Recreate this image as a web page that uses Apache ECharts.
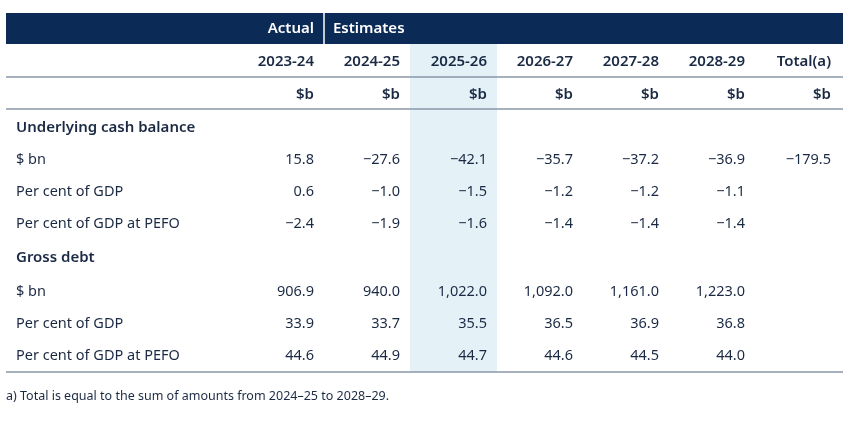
<!DOCTYPE html>
<html><head><meta charset="utf-8">
<script src="https://cdn.jsdelivr.net/npm/echarts@6/dist/echarts.min.js"></script>
<style>html,body{margin:0;padding:0;background:#fff}#c{width:855px;height:422px}</style>
</head><body><div id="c"></div>
<script>
const columns = ['2023-24','2024-25','2025-26','2026-27','2027-28','2028-29','Total(a)'];
const units = ['$b','$b','$b','$b','$b','$b','$b'];
const section1 = 'Underlying cash balance';
const section2 = 'Gross debt';
const rowLabels1 = ['$ bn','Per cent of GDP','Per cent of GDP at PEFO'];
const rowLabels2 = ['$ bn','Per cent of GDP','Per cent of GDP at PEFO'];
const ucbBn = ['15.8','-27.6','-42.1','-35.7','-37.2','-36.9','-179.5'];
const ucbGdp = ['0.6','-1.0','-1.5','-1.2','-1.2','-1.1',''];
const ucbPefo = ['-2.4','-1.9','-1.6','-1.4','-1.4','-1.4',''];
const debtBn = ['906.9','940.0','1,022.0','1,092.0','1,161.0','1,223.0',''];
const debtGdp = ['33.9','33.7','35.5','36.5','36.9','36.8',''];
const debtPefo = ['44.6','44.9','44.7','44.6','44.5','44.0',''];
const footnote = 'a) Total is equal to the sum of amounts from 2024\u201325 to 2028\u201329.';

const navy = '#0b2a55', txt = '#1b2a44', font = '"Noto Sans", sans-serif';
const colRight = [314,400,487,573,659,745,831];
const g = [];
const T = (x,y,s,opt={}) => g.push({type:'text',x,y,style:Object.assign({text:s,fill:txt,font:`${opt.bold?'600 ':''}${opt.size||14.5}px ${font}`,textAlign:opt.align||'left',textVerticalAlign:'middle'},opt.style||{})});
const R = (x,y,w,h,fill) => g.push({type:'rect',shape:{x,y,width:w,height:h},style:{fill}});
const L = (x1,y1,x2,y2,stroke,lw) => g.push({type:'line',shape:{x1,y1,x2,y2},style:{stroke,lineWidth:lw}});

R(410,44,87,328,'#e4f2f8');
R(6,13,837,31,navy);
L(324,13,324,44,'#ffffff',1.5);
T(314,29,'Actual',{bold:true,size:15,align:'right',style:{fill:'#fff'}});
T(333,29,'Estimates',{bold:true,size:15,style:{fill:'#fff'}});
columns.forEach((c,i)=>T(colRight[i],62,c,{bold:true,size:15,align:'right'}));
L(6,77,843,77,'#8a97a8',1.5);
units.forEach((c,i)=>T(colRight[i],95,c,{bold:true,size:15,align:'right'}));
L(6,109,843,109,'#8a97a8',1.5);
T(16,128,section1,{bold:true,size:15});
[ucbBn,ucbGdp,ucbPefo].forEach((arr,r)=>{const y=160+r*32;T(16,y,rowLabels1[r]);arr.forEach((v,i)=>v&&T(colRight[i],y,v.replace('-','\u2212'),{align:'right'}));});
T(16,258,section2,{bold:true,size:15});
[debtBn,debtGdp,debtPefo].forEach((arr,r)=>{const y=292+r*32;T(16,y,rowLabels2[r]);arr.forEach((v,i)=>v&&T(colRight[i],y,v,{align:'right'}));});
L(6,372,843,372,'#8a97a8',1.5);
T(6,396,footnote,{size:12.5});

const chart = echarts.init(document.getElementById('c'));
chart.setOption({animation:false,graphic:g});
</script></body></html>
